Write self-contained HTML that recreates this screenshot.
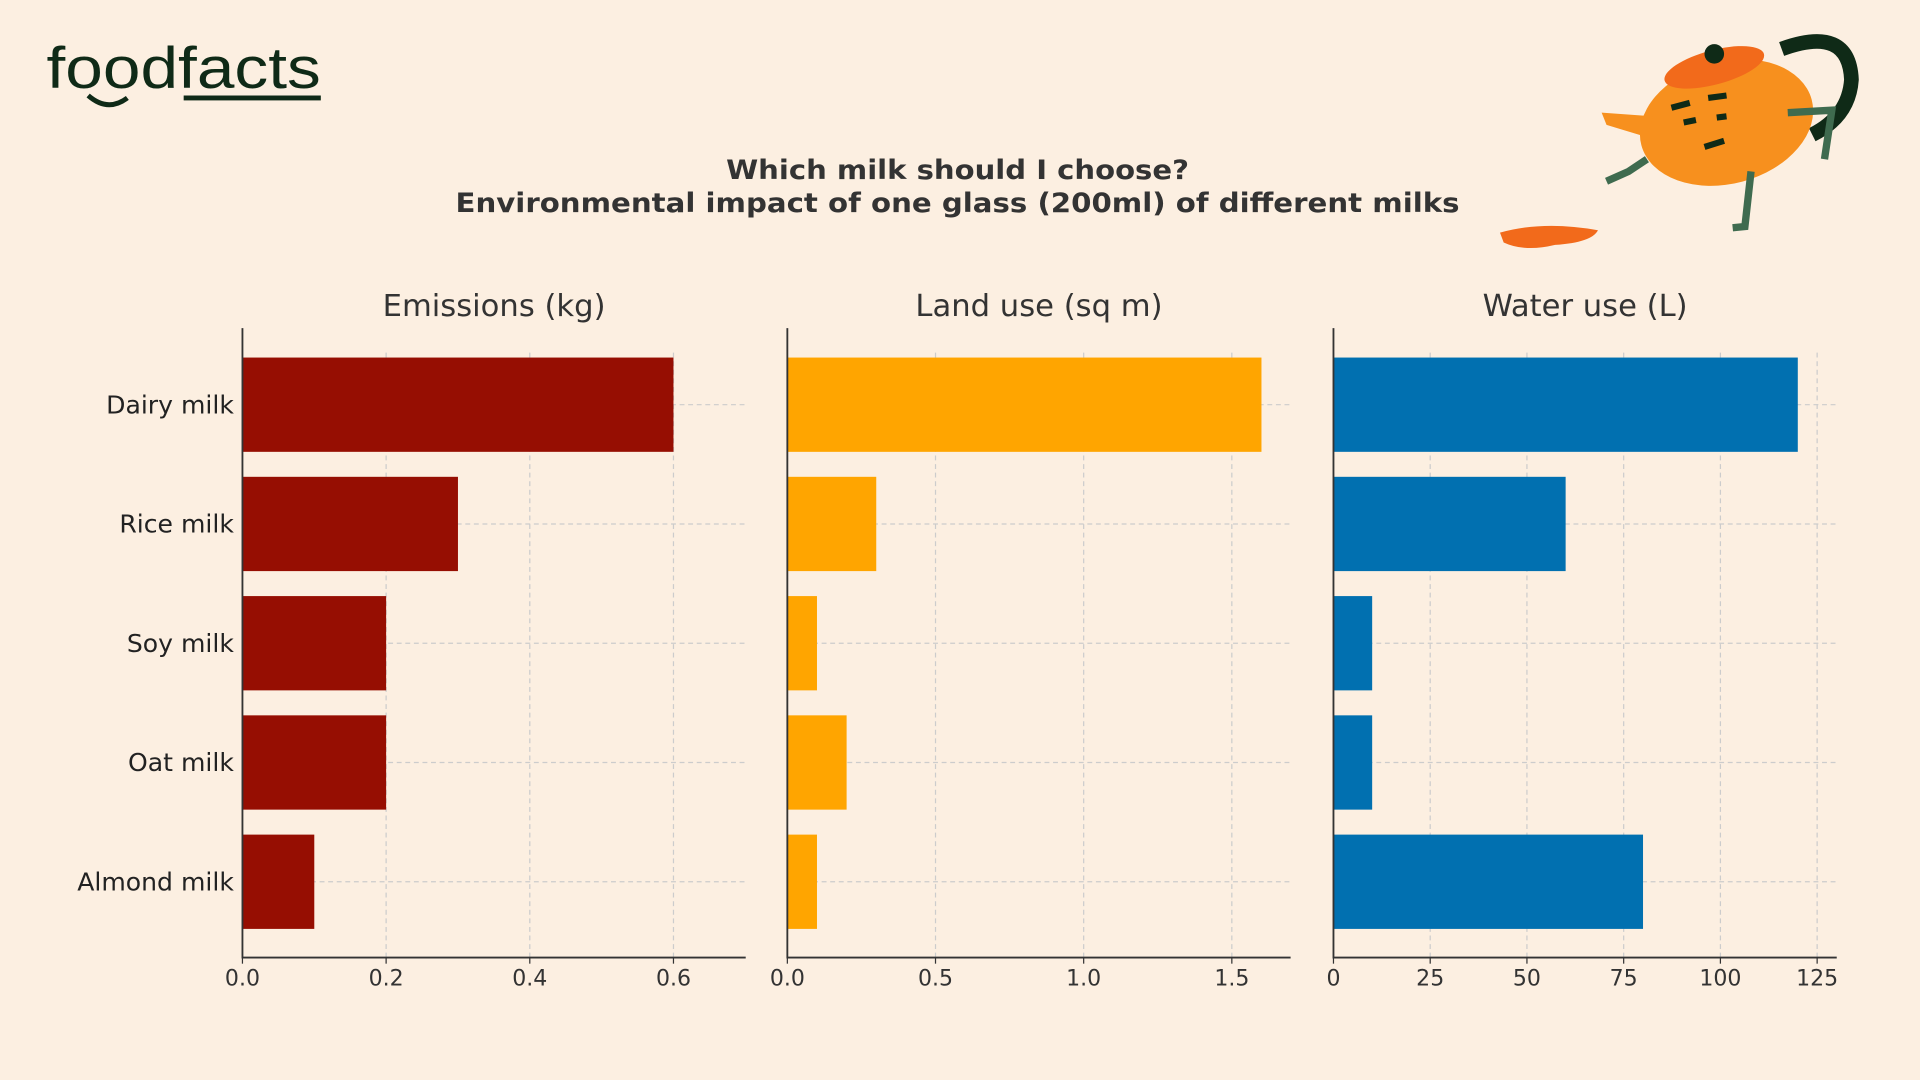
<!DOCTYPE html>
<html><head><meta charset="utf-8"><style>
html,body{margin:0;padding:0;background:#fcefe1;}
svg{display:block;}
text{font-family:"DejaVu Sans","Liberation Sans",sans-serif;}
</style></head><body>
<svg id="c" width="1920" height="1080" viewBox="0 0 1568 882" xmlns="http://www.w3.org/2000/svg">
<rect width="1568" height="882" fill="#fcefe1"/>
<g>
<text x="38" y="72" font-size="48" fill="#0f2a17" textLength="224" lengthAdjust="spacingAndGlyphs" style="font-family:'Liberation Sans',sans-serif">foodfacts</text>
<rect x="150" y="78" width="112" height="4" fill="#0f2a17"/>
<path d="M72 78 Q88 92 104 80" stroke="#0f2a17" stroke-width="4" fill="none"/>
</g>
<g>
<path d="M1455 40 Q1510 20 1512 65 Q1510 95 1480 110" stroke="#0f2a17" stroke-width="12" fill="none"/>
<ellipse cx="1410" cy="100" rx="72" ry="50" fill="#f7901e" transform="rotate(-15 1410 100)"/>
<ellipse cx="1400" cy="55" rx="42" ry="14" fill="#f26a1b" transform="rotate(-15 1400 55)"/>
<circle cx="1400" cy="44" r="8" fill="#0f2a17"/>
<path d="M1350 95 L1308 92 L1312 102 L1345 112 Z" fill="#f7901e"/>
<path d="M1345 130 L1330 140 L1312 148" stroke="#3f6b4f" stroke-width="6" fill="none"/>
<path d="M1460 92 L1496 90 L1490 130" stroke="#3f6b4f" stroke-width="6" fill="none"/>
<path d="M1430 140 L1425 185 L1415 186" stroke="#3f6b4f" stroke-width="6" fill="none"/>
<path d="M1365 88 L1380 84 M1395 80 L1410 78 M1375 100 L1385 98 M1402 96 L1410 95 M1392 120 L1408 115" stroke="#0f2a17" stroke-width="5" fill="none"/>
<path d="M1225 190 Q1260 180 1305 188 Q1300 198 1270 200 Q1245 206 1228 198 Z" fill="#f26a1b"/>
</g>
<text x="593" y="146" font-size="22" font-weight="bold" fill="#333" textLength="378" lengthAdjust="spacingAndGlyphs">Which milk should I choose?</text>
<text x="372" y="173" font-size="22" font-weight="bold" fill="#333" textLength="820" lengthAdjust="spacingAndGlyphs">Environmental impact of one glass (200ml) of different milks</text>
<g id="plots"></g>
</svg>
<script>
const categories = ["Dairy milk","Rice milk","Soy milk","Oat milk","Almond milk"];
const emissions = [0.6,0.3,0.2,0.2,0.1];
const landUse = [1.6,0.3,0.1,0.2,0.1];
const waterUse = [120,60,10,10,80];
const emissionTicks = ["0.0","0.2","0.4","0.6"];
const landTicks = ["0.0","0.5","1.0","1.5"];
const waterTicks = ["0","25","50","75","100","125"];
const titles = ["Emissions (kg)","Land use (sq m)","Water use (L)"];

(function(){
const NS="http://www.w3.org/2000/svg";
const g=document.getElementById('plots');
function mk(tag,attrs,parent){const e=document.createElementNS(NS,tag);for(const k in attrs)e.setAttribute(k,attrs[k]);(parent||g).appendChild(e);return e;}
const axTop=268,axBottom=782,rowStep=97.4,firstCenter=330.5,barH=77;
function yC(i){return firstCenter+i*rowStep;}
const panels=[
 {vals:emissions,ticks:emissionTicks,x0:198,x1:609,max:0.6,maxPx:550,color:"#960e02",name:"emissions"},
 {vals:landUse,ticks:landTicks,x0:643,x1:1054,max:1.5,maxPx:1006,color:"#ffa500",name:"land-use"},
 {vals:waterUse,ticks:waterTicks,x0:1089,x1:1500,max:125,maxPx:1484,color:"#0170b0",name:"water-use"}
];
panels.forEach((p,pi)=>{
 const sx=v=>p.x0+(v/p.max)*(p.maxPx-p.x0);
 const pg=mk('g',{});
 
 
 const t=mk('text',{x:(p.x0+p.x1)/2,y:258,'text-anchor':'middle','font-size':25,fill:'#333'},pg);
 t.textContent=titles[pi];
 
 
 p.ticks.forEach(tk=>{const x=sx(parseFloat(tk));
  const l=mk('line',{x1:x,x2:x,y1:axTop+20,y2:axBottom,stroke:'#ccc','stroke-dasharray':'4 3','stroke-width':1},pg);
  
  
 });
 categories.forEach((c,i)=>{
  const l=mk('line',{x1:p.x0,x2:p.x1,y1:yC(i),y2:yC(i),stroke:'#ccc','stroke-dasharray':'4 3','stroke-width':1},pg);
  
  
 });
 p.vals.forEach((v,i)=>{
  const r=mk('rect',{x:p.x0,y:yC(i)-barH/2,width:sx(v)-p.x0,height:barH,fill:p.color},pg);
  
  
 });
 const ax=mk('path',{d:`M${p.x0} ${axTop} L${p.x0} ${axBottom} L${p.x1} ${axBottom}`,stroke:'#333','stroke-width':1.5,fill:'none'},pg);
 
 
 p.ticks.forEach(tk=>{const x=sx(parseFloat(tk));
  mk('line',{x1:x,x2:x,y1:axBottom,y2:axBottom+5,stroke:'#333'},pg);
  const tt=mk('text',{x:x,y:805,'text-anchor':'middle','font-size':18,fill:'#333'},pg);
  tt.textContent=tk;
  
  
 });
 if(pi===0){categories.forEach((c,i)=>{
  const tt=mk('text',{x:191,y:yC(i)+7,'text-anchor':'end','font-size':20.5,fill:'#222'},pg);
  tt.textContent=c;
  
  
 });}
});
})();
</script>
</body></html>
